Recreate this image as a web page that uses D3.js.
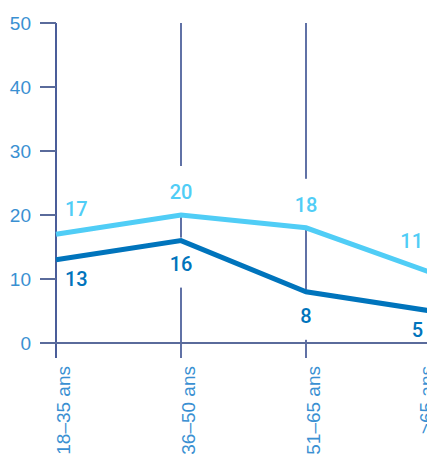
<!DOCTYPE html>
<html><head><meta charset="utf-8">
<script src="https://cdn.jsdelivr.net/npm/d3@7"></script>
<style>body{margin:0;background:#fff;overflow:hidden}svg{display:block}</style>
</head><body><svg id="c" width="427" height="456"></svg>
<script>
const categories = ["18–35 ans", "36–50 ans", "51–65 ans", ">65 ans"];
const seriesLight = [17, 20, 18, 11];
const seriesDark = [13, 16, 8, 5];
const yTicks = [0, 10, 20, 30, 40, 50];

const svg = d3.select("#c");
const x = d3.scalePoint().domain(categories).range([56, 431]);
const y = d3.scaleLinear().domain([0, 50]).range([343, 23]);

const navy = "#1d3580", slate = "#5a6b9b", tickCol = "#3a90d2";
const lightCol = "#50cdf6", darkCol = "#0074bc";

// vertical grid lines
svg.append("g").selectAll("line").data(categories.slice(1)).join("line")
  .attr("x1", d => x(d)).attr("x2", d => x(d)).attr("y1", y(50)).attr("y2", y(0) + 15)
  .attr("stroke", navy).attr("stroke-width", 1.4);

// label backgrounds layer, axes, lines, then label texts
const bgG = svg.append("g");
const axisG = svg.append("g");
const linesG = svg.append("g");
const txtG = svg.append("g");

const n = categories.length;
function anchor(i){ return i === 0 ? "start" : (i === n - 1 ? "end" : "middle"); }
function dx(i){ return i === 0 ? 9 : (i === n - 1 ? -8 : 0); }
const lightDy = [-18, -16, -16, -25];
const darkDy = [26, 30, 31, 26];
function addLabels(vals, col, offs){
  vals.forEach((v, i) => {
    txtG.append("text")
      .attr("x", x(categories[i]) + dx(i)).attr("y", y(v) + offs[i])
      .attr("text-anchor", anchor(i))
      .attr("font-family", "Roboto, 'Liberation Sans', sans-serif")
      .attr("font-weight", 500).attr("font-size", 20).attr("fill", col)
      .text(v);
  });
}
addLabels(seriesLight, lightCol, lightDy);
addLabels(seriesDark, darkCol, darkDy);
txtG.selectAll("text").each(function(){
  const b = this.getBBox();
  bgG.append("rect").attr("x", b.x - 4).attr("y", b.y - 14).attr("width", b.width + 8)
    .attr("height", b.height + 26).attr("fill", "#fff");
});

// axes
axisG.append("line").attr("x1", 56).attr("x2", 56).attr("y1", y(50)).attr("y2", y(0) + 15)
  .attr("stroke", navy).attr("stroke-width", 1.6);
axisG.append("line").attr("x1", 40).attr("x2", 427).attr("y1", y(0)).attr("y2", y(0))
  .attr("stroke", slate).attr("stroke-width", 2);
axisG.selectAll(".yt").data(yTicks).join("line").attr("class", "yt")
  .attr("x1", 40).attr("x2", 56).attr("y1", d => y(d)).attr("y2", d => y(d))
  .attr("stroke", slate).attr("stroke-width", 2);
axisG.selectAll(".yl").data(yTicks).join("text").attr("class", "yl")
  .attr("x", 31).attr("y", d => y(d)).attr("dy", "0.35em").attr("text-anchor", "end")
  .attr("font-family", "'Liberation Sans', Arial, sans-serif").attr("font-size", 19)
  .attr("fill", tickCol).text(d => d);
axisG.selectAll(".xl").data(categories).join("text").attr("class", "xl")
  .attr("transform", d => `translate(${Math.min(x(d) + 7, 426)},366) rotate(-90)`)
  .attr("dy", "0.35em").attr("text-anchor", "end")
  .attr("font-family", "'Liberation Sans', Arial, sans-serif").attr("font-size", 19)
  .attr("fill", tickCol).text(d => d);

// lines
const line = d3.line().x((d, i) => x(categories[i])).y(d => y(d));
linesG.append("path").datum(seriesLight).attr("d", line).attr("fill", "none")
  .attr("stroke", lightCol).attr("stroke-width", 5);
linesG.append("path").datum(seriesDark).attr("d", line).attr("fill", "none")
  .attr("stroke", darkCol).attr("stroke-width", 5);
</script></body></html>
